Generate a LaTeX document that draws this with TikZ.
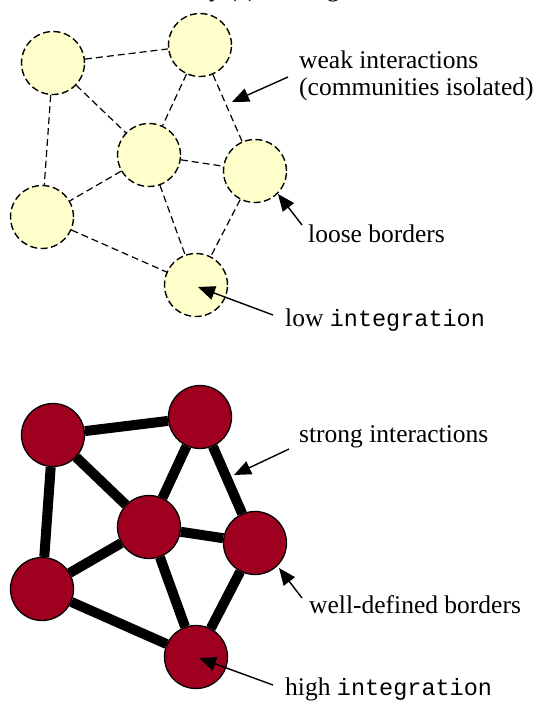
\documentclass[tikz,border=0pt]{standalone}
\usepackage{fontspec}
\setmainfont{Liberation Serif}
\setmonofont{Liberation Mono}
\usetikzlibrary{arrows.meta,backgrounds}
\definecolor{paleyellow}{RGB}{255,255,204}
\definecolor{deepred}{RGB}{160,0,32}
\begin{document}
\begin{tikzpicture}[x=1pt,y=-1pt,
  weaknode/.style={circle,draw,line width=1.4pt,dash pattern=on 7pt off 3.5pt,
    fill=paleyellow,minimum size=63pt,inner sep=0pt},
  strongnode/.style={circle,draw,line width=1.3pt,fill=deepred,
    minimum size=63pt,inner sep=0pt},
  weaklink/.style={line width=1.2pt,dash pattern=on 7pt off 4pt},
  stronglink/.style={line width=10pt},
  pointer/.style={line width=1.4pt,-{Triangle[length=17pt,width=14pt]}},
  note/.style={font=\fontsize{25.5}{29}\selectfont,anchor=base west,inner sep=0pt}]
\useasboundingbox (0,0) rectangle (546,702);
\clip (0,0) rectangle (546,702);

% caption line above, mostly outside the frame
\node[note] (caption) at (107,-3.5) {Modularity (a) Among};

% ---------- weakly connected communities ----------
\node[weaknode] (wa) at (53,63)  {};
\node[weaknode] (wb) at (200,45) {};
\node[weaknode] (wc) at (149,155) {};
\node[weaknode] (wd) at (255,171) {};
\node[weaknode] (we) at (42,217) {};
\node[weaknode] (wf) at (196,285) {};
\begin{scope}[on background layer]
  \draw[weaklink] (wa) -- (wb);
  \draw[weaklink] (wa) -- (we);
  \draw[weaklink] (wa) -- (wc);
  \draw[weaklink] (wb) -- (wc);
  \draw[weaklink] (wb) -- (wd);
  \draw[weaklink] (wc) -- (wd);
  \draw[weaklink] (wc) -- (we);
  \draw[weaklink] (wc) -- (wf);
  \draw[weaklink] (wd) -- (wf);
  \draw[weaklink] (we) -- (wf);
\end{scope}

\node[note] (weak1) at (299,68) {weak interactions};
\node[note] (weak2) at (299,95) {(communities isolated)};
\node[note] (loose) at (308,242) {loose borders};
\node[note] (low)   at (285,326) {low \textnormal{\fontsize{23.5}{29}\ttfamily integration}};

\coordinate (weakS) at (288,77);   \coordinate (weakT) at (232,102);
\coordinate (looseS) at (302,225); \coordinate (looseT) at (278,194);
\coordinate (lowS) at (273,315);   \coordinate (lowT) at (198,287);
\draw[pointer] (weakS) -- (weakT);
\draw[pointer] (looseS) -- (looseT);
\draw[pointer] (lowS) -- (lowT);

% ---------- strongly connected communities ----------
\node[strongnode] (sa) at (53,435)  {};
\node[strongnode] (sb) at (200,417) {};
\node[strongnode] (sc) at (149,527) {};
\node[strongnode] (sd) at (255,543) {};
\node[strongnode] (se) at (42,589)  {};
\node[strongnode] (sf) at (196,657) {};
\begin{scope}[on background layer]
  \draw[stronglink] (sa) -- (sb);
  \draw[stronglink] (sa) -- (se);
  \draw[stronglink] (sa) -- (sc);
  \draw[stronglink] (sb) -- (sc);
  \draw[stronglink] (sb) -- (sd);
  \draw[stronglink] (sc) -- (sd);
  \draw[stronglink] (sc) -- (se);
  \draw[stronglink] (sc) -- (sf);
  \draw[stronglink] (sd) -- (sf);
  \draw[stronglink] (se) -- (sf);
\end{scope}

\node[note] (strong) at (299,442) {strong interactions};
\node[note] (well)   at (309,613) {well-defined borders};
\node[note] (high)   at (285,695) {high \textnormal{\fontsize{23.5}{29}\ttfamily integration}};

\coordinate (strongS) at (289,449); \coordinate (strongT) at (234,475);
\coordinate (wellS) at (302,598);   \coordinate (wellT) at (279,568);
\coordinate (highS) at (273,685);   \coordinate (highT) at (199,658);
\draw[pointer] (strongS) -- (strongT);
\draw[pointer] (wellS) -- (wellT);
\draw[pointer] (highS) -- (highT);
\end{tikzpicture}
\end{document}
